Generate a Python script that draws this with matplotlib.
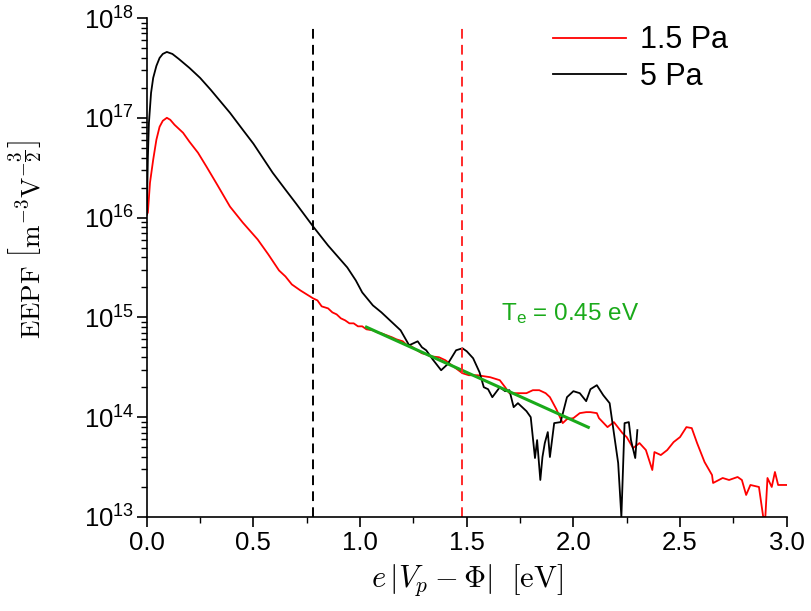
import numpy as np
import matplotlib.pyplot as plt
from matplotlib.ticker import LogLocator, MultipleLocator, NullFormatter

plt.rcParams["font.family"] = ["Liberation Sans", "DejaVu Sans"]
plt.rcParams["mathtext.fontset"] = "custom"
plt.rcParams["mathtext.rm"] = "Liberation Sans"
plt.rcParams["mathtext.it"] = "Liberation Sans:italic"

# EEPF at 5 Pa: energy [eV] and log10 of EEPF
x_5pa = [0.0, 0.005, 0.01, 0.02, 0.03, 0.045, 0.06, 0.075, 0.094, 0.12, 0.15,
         0.2, 0.25, 0.3, 0.39, 0.45, 0.5, 0.59, 0.65, 0.7, 0.78, 0.85, 0.94,
         0.98, 1.01, 1.06, 1.10, 1.14, 1.19, 1.23, 1.25, 1.27, 1.29, 1.31,
         1.34, 1.38, 1.41, 1.45, 1.48, 1.50, 1.53, 1.56, 1.58, 1.60, 1.62,
         1.655, 1.68, 1.70, 1.72, 1.74, 1.76, 1.78, 1.80, 1.82, 1.83, 1.845,
         1.855, 1.866, 1.88, 1.89, 1.91, 1.94, 1.97, 2.00, 2.03, 2.06, 2.08,
         2.11, 2.14, 2.17, 2.19, 2.21, 2.225, 2.24, 2.26, 2.27, 2.29, 2.30]
log_5pa = [16.03, 16.6, 16.95, 17.25, 17.40, 17.52, 17.60, 17.64, 17.66, 17.64,
           17.59, 17.50, 17.40, 17.28, 17.05, 16.88, 16.74, 16.45, 16.28,
           16.14, 15.91, 15.72, 15.50, 15.37, 15.25, 15.12, 15.05, 14.97,
           14.87, 14.72, 14.74, 14.76, 14.70, 14.67, 14.58, 14.47, 14.53,
           14.67, 14.69, 14.66, 14.59, 14.45, 14.30, 14.28, 14.20, 14.30,
           14.26, 14.27, 14.10, 14.14, 14.10, 14.06, 14.00, 13.59, 13.77,
           13.37, 13.60, 13.74, 13.85, 13.60, 13.94, 13.95, 14.20, 14.26,
           14.24, 14.16, 14.28, 14.32, 14.22, 14.14, 13.84, 13.54, 13.0,
           13.94, 13.95, 13.77, 13.59, 13.87]

# EEPF at 1.5 Pa
x_15pa = [0.0, 0.005, 0.015, 0.03, 0.045, 0.06, 0.075, 0.094, 0.11, 0.13, 0.17,
          0.2, 0.24, 0.28, 0.33, 0.39, 0.45, 0.52, 0.57, 0.62, 0.65, 0.68,
          0.72, 0.75, 0.78, 0.80, 0.82, 0.85, 0.87, 0.89, 0.91, 0.93, 0.95,
          0.97, 0.99, 1.01, 1.03, 1.06, 1.08, 1.10, 1.125, 1.15, 1.17, 1.20,
          1.22, 1.24, 1.26, 1.29, 1.31, 1.33, 1.37, 1.40, 1.43, 1.48, 1.51,
          1.55, 1.58, 1.61, 1.655, 1.68, 1.70, 1.74, 1.78, 1.81, 1.84, 1.87,
          1.89, 1.92, 1.95, 1.97, 2.0, 2.03, 2.06, 2.08, 2.11, 2.12, 2.16,
          2.19, 2.23, 2.25, 2.28, 2.31, 2.34, 2.37, 2.38, 2.41, 2.44, 2.47,
          2.50, 2.53, 2.555, 2.58, 2.615, 2.65, 2.655, 2.70, 2.73, 2.77, 2.79,
          2.81, 2.83, 2.87, 2.89, 2.90, 2.91, 2.93, 2.945, 2.96, 3.0]
log_15pa = [16.03, 16.05, 16.35, 16.58, 16.78, 16.91, 16.97, 17.0, 16.98, 16.93,
            16.85, 16.76, 16.65, 16.51, 16.33, 16.11, 15.95, 15.78, 15.63,
            15.47, 15.41, 15.33, 15.27, 15.23, 15.19, 15.17, 15.11, 15.09,
            15.05, 15.03, 14.99, 14.97, 14.94, 14.94, 14.91, 14.91, 14.88,
            14.87, 14.85, 14.84, 14.82, 14.80, 14.78, 14.76, 14.72, 14.71,
            14.68, 14.64, 14.63, 14.61, 14.60, 14.57, 14.52, 14.44, 14.42,
            14.42, 14.41, 14.40, 14.37, 14.30, 14.24, 14.24, 14.24, 14.27,
            14.27, 14.24, 14.20, 14.08, 13.94, 13.98, 13.99, 14.04, 14.05,
            14.05, 14.04, 13.99, 13.90, 13.95, 13.84, 13.80, 13.69, 13.74,
            13.67, 13.47, 13.65, 13.62, 13.67, 13.75, 13.80, 13.90, 13.89,
            13.74, 13.55, 13.42, 13.34, 13.39, 13.37, 13.40, 13.37, 13.22,
            13.32, 13.30, 13.0, 13.0, 13.39, 13.30, 13.45, 13.32, 13.32]

# exponential fit of the tail
te = 0.45            # eV
fit_range = [1.03, 2.07]
fit_anchor = (1.55, 14.40)

vline_5pa = 0.78
vline_15pa = 1.477

fig, ax = plt.subplots(figsize=(8.11, 6.11), dpi=100)
fig.subplots_adjust(left=0.181, right=0.970, bottom=0.154, top=0.9705)

ax.plot(x_15pa, 10 ** np.array(log_15pa), color="#ff0000", lw=1.3, label="1.5 Pa")
ax.plot(x_5pa, 10 ** np.array(log_5pa), color="black", lw=1.3, label="5 Pa")

xf = np.linspace(fit_range[0], fit_range[1], 50)
yf = 10 ** fit_anchor[1] * np.exp(-(xf - fit_anchor[0]) / te)
ax.plot(xf, yf, color="#1aaa1a", lw=2.2)
ax.text(1.66, 10 ** 14.97, r"T$_\mathrm{e}$ = 0.45 eV", color="#1aaa1a", fontsize=17.5)

ax.axvline(vline_5pa, color="black", ls=(0, (5, 3.2)), lw=1.4, ymax=0.99)
ax.axvline(vline_15pa, color="#ff2a2a", ls=(0, (5, 3.2)), lw=1.4, ymax=0.99)

ax.set_yscale("log")
ax.set_xlim(0, 3.0)
ax.set_ylim(1e13, 1e18)
ax.xaxis.set_major_locator(MultipleLocator(0.5))
ax.xaxis.set_minor_locator(MultipleLocator(0.25))
ax.yaxis.set_major_locator(LogLocator(base=10, numticks=10))
ax.yaxis.set_minor_locator(LogLocator(base=10, subs=np.arange(2, 10), numticks=10))
ax.yaxis.set_minor_formatter(NullFormatter())

for side in ["top", "right"]:
    ax.spines[side].set_visible(False)
for side in ["left", "bottom"]:
    ax.spines[side].set_linewidth(1.2)
ax.tick_params(which="major", direction="out", length=7, width=1.2)
ax.tick_params(which="minor", direction="out", length=4, width=1.0)
ax.tick_params(axis="x", labelsize=18.5)
ax.tick_params(axis="y", labelsize=18.5, pad=2)

ax.set_xlabel(r"$e\,|V_p - \Phi|\ \ [\mathrm{eV}]$", fontsize=22,
              math_fontfamily="cm", labelpad=5)
ax.set_ylabel(r"$\mathrm{EEPF}\ \left[\mathrm{m}^{-3}\mathrm{V}^{-\dfrac{3}{2}}\right]$",
              fontsize=19.5, math_fontfamily="cm")
ax.yaxis.set_label_coords(-0.156, 0.555)

ax.legend(loc="upper left", frameon=False, fontsize=22, handlelength=2.4,
          handletextpad=0.45, labelspacing=0.2, borderpad=0.2,
          bbox_to_anchor=(0.601, 1.028))

fig.savefig("out.png", dpi=100)
